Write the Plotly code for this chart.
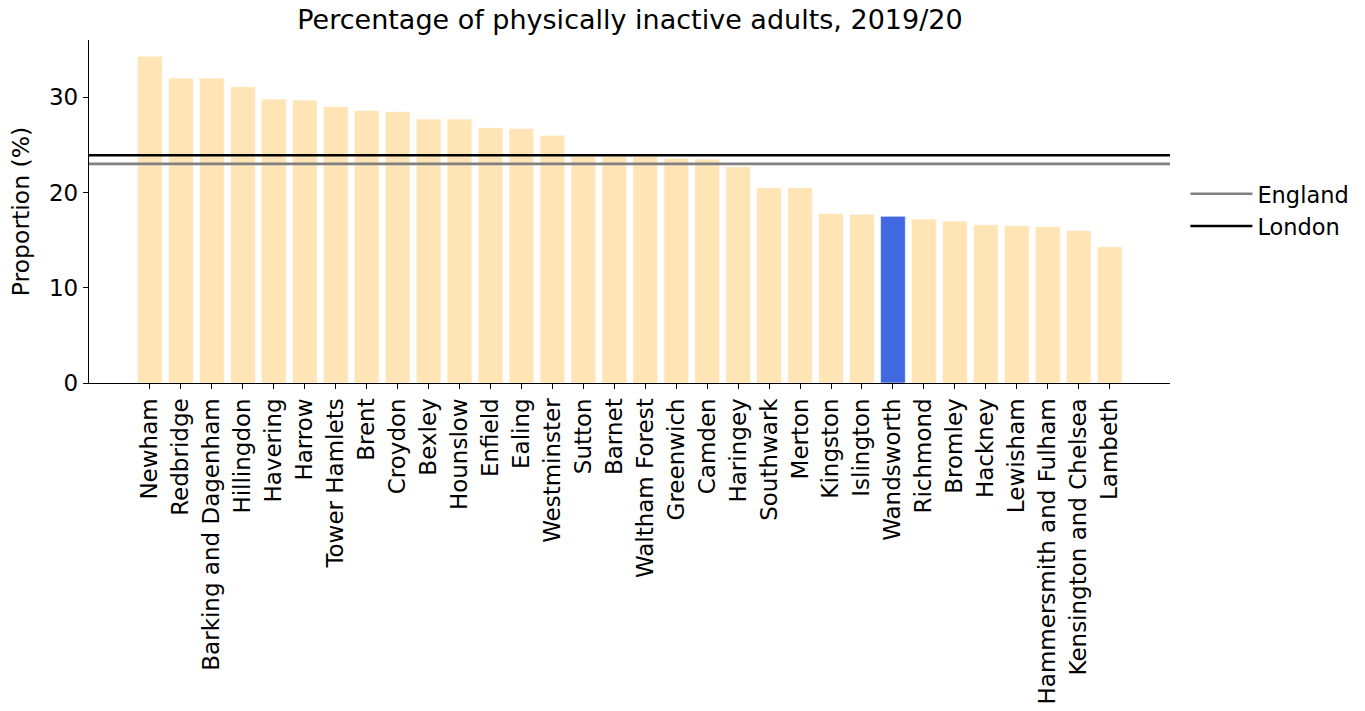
import plotly.graph_objects as go

boroughs = [
    "Newham", "Redbridge", "Barking and Dagenham", "Hillingdon", "Havering",
    "Harrow", "Tower Hamlets", "Brent", "Croydon", "Bexley", "Hounslow",
    "Enfield", "Ealing", "Westminster", "Sutton", "Barnet", "Waltham Forest",
    "Greenwich", "Camden", "Haringey", "Southwark", "Merton", "Kingston",
    "Islington", "Wandsworth", "Richmond", "Bromley", "Hackney", "Lewisham",
    "Hammersmith and Fulham", "Kensington and Chelsea", "Lambeth",
]
inactive_pct = [
    34.3, 32.0, 32.0, 31.1, 29.8, 29.7, 29.0, 28.6, 28.5, 27.7, 27.7,
    26.8, 26.7, 26.0, 23.8, 23.8, 23.8, 23.6, 23.5, 22.7, 20.5, 20.5,
    17.8, 17.7, 17.5, 17.2, 17.0, 16.6, 16.5, 16.4, 16.0, 14.3,
]
highlight = "Wandsworth"
england_pct = 23.0
london_pct = 23.9

FONT = "DejaVu Sans"
bar_colors = ["#4169E1" if b == highlight else "#FFE4B5" for b in boroughs]

fig = go.Figure()
fig.add_trace(go.Bar(
    x=boroughs, y=inactive_pct, marker_color=bar_colors,
    marker_line=dict(color="white", width=0.6), width=0.8,
    showlegend=False, hoverinfo="x+y",
))

# Reference lines spanning the full axis width on an overlaid numeric axis
for name, val, col in [("England", england_pct, "#808080"), ("London", london_pct, "black")]:
    fig.add_trace(go.Scatter(
        x=[0, 1], y=[val, val], mode="lines", name=name,
        line=dict(color=col, width=2.6), xaxis="x2", yaxis="y",
    ))

fig.update_layout(
    width=1365, height=711,
    margin=dict(l=89, r=194, t=40, b=328),
    paper_bgcolor="white", plot_bgcolor="white",
    font=dict(family=FONT, size=23, color="black"),
    title=dict(text="Percentage of physically inactive adults, 2019/20",
               x=0.4615, xanchor="center", y=0.972, yanchor="middle",
               font=dict(size=27, family=FONT)),
    xaxis=dict(
        type="category", range=[-1.97, 32.95], tickangle=-90,
        showline=True, linecolor="black", linewidth=1.3,
        ticks="outside", ticklen=5, tickcolor="black", tickwidth=1.2,
        showgrid=False, tickfont=dict(size=23), automargin=False,
    ),
    xaxis2=dict(overlaying="x", range=[0, 1], visible=False, fixedrange=True),
    yaxis=dict(
        range=[0, 36], tickvals=[0, 10, 20, 30],
        showline=True, linecolor="black", linewidth=1.3,
        ticks="outside", ticklen=5, tickcolor="black", tickwidth=1.2,
        showgrid=False, zeroline=False, tickfont=dict(size=23),
        title=dict(text="Proportion (%)", font=dict(size=23.5), standoff=12),
        automargin=False,
    ),
    legend=dict(
        x=1.0133, xanchor="left", y=0.504, yanchor="middle",
        font=dict(size=22.5), bgcolor="rgba(0,0,0,0)", itemwidth=62,
        tracegroupgap=0,
    ),
    bargap=0.2,
)

fig.write_html("out.html")
